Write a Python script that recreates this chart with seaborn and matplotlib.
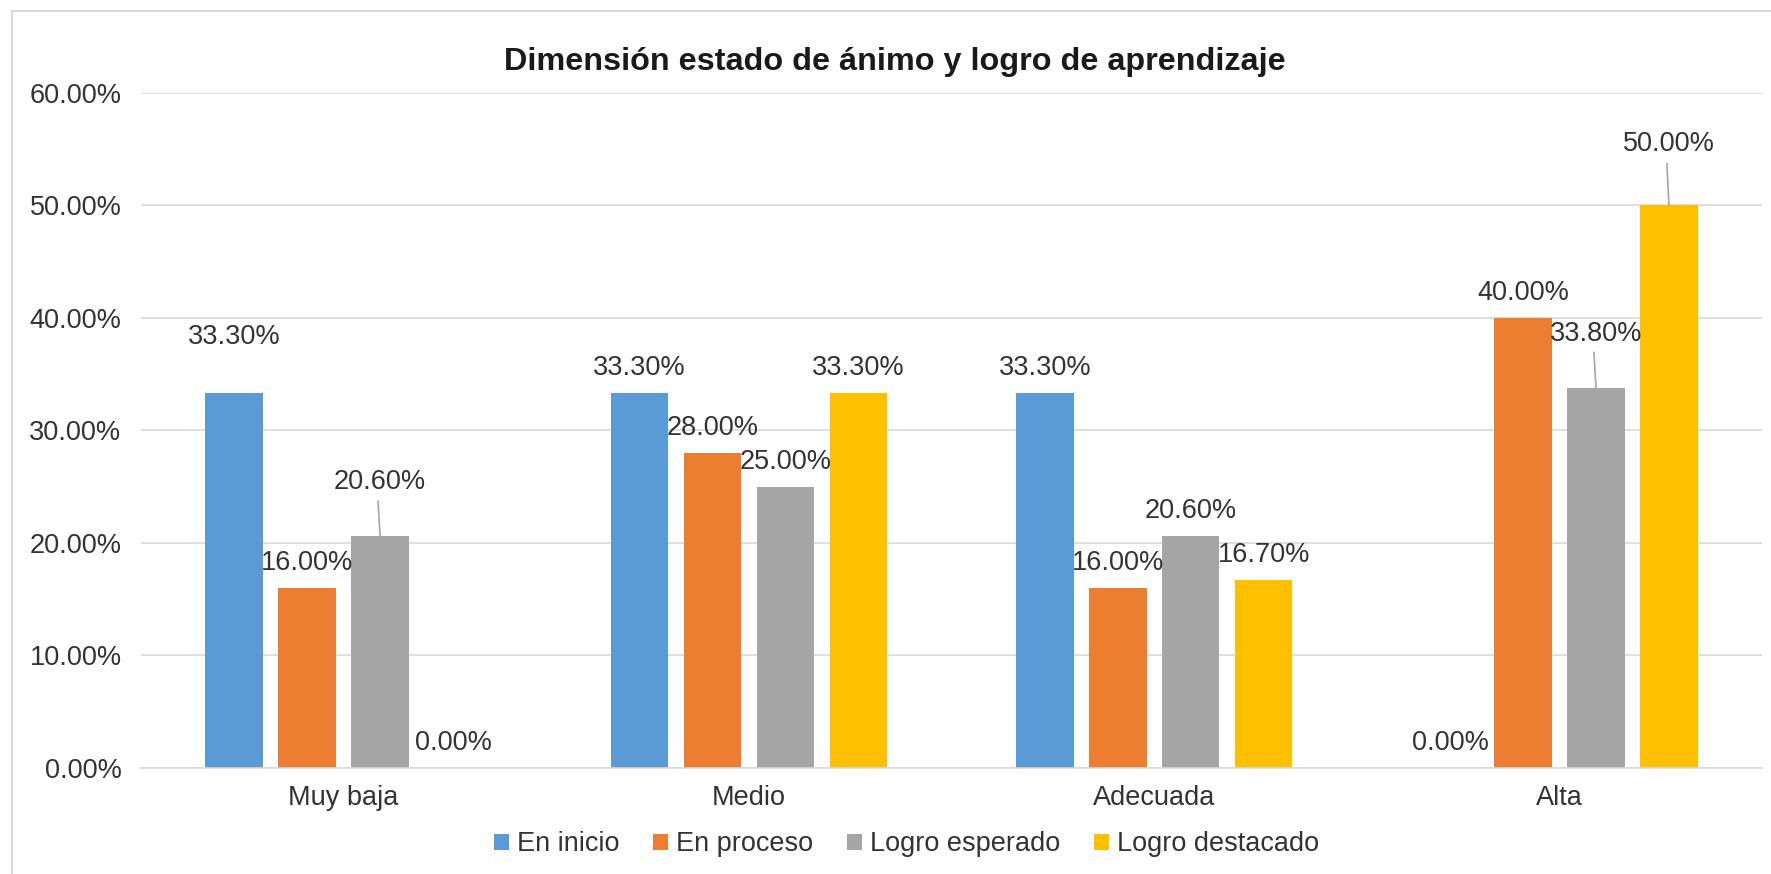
import pandas as pd
import seaborn as sns
import matplotlib.pyplot as plt
from matplotlib.patches import Rectangle

# Data
niveles = ['Muy baja', 'Medio', 'Adecuada', 'Alta']
logros = ['En inicio', 'En proceso', 'Logro esperado', 'Logro destacado']
en_inicio = [33.3, 33.3, 33.3, 0.0]
en_proceso = [16.0, 28.0, 16.0, 40.0]
logro_esperado = [20.6, 25.0, 20.6, 33.8]
logro_destacado = [0.0, 33.3, 16.7, 50.0]

colores = ['#5B9BD5', '#ED7D31', '#A5A5A5', '#FFC000']

series = [en_inicio, en_proceso, logro_esperado, logro_destacado]
df = pd.DataFrame({
    'Nivel': niveles * 4,
    'Logro': [l for l in logros for _ in niveles],
    'Porcentaje': [v for s in series for v in s],
})

plt.rcParams['font.family'] = ['Liberation Sans', 'DejaVu Sans']
text_color = '#333333'
grid_color = '#D9D9D9'

fig = plt.figure(figsize=(17.71, 8.74), dpi=100)
ax = fig.add_axes([0.0796, 0.1213, 0.9154, 0.7727])

sns.barplot(data=df, x='Nivel', y='Porcentaje', hue='Logro', palette=colores,
            width=0.72, gap=0.21, saturation=1, ax=ax, legend=True)

ax.set_xlim(-0.5, 3.5)
ax.set_ylim(0, 60)
ax.set_yticks(range(0, 61, 10))
ax.set_yticklabels([f'{v:.2f}%' for v in range(0, 61, 10)])
ax.set_xlabel('')
ax.set_ylabel('')
ax.grid(axis='y', color=grid_color, linewidth=1.2)
ax.set_axisbelow(True)
for side in ['top', 'right', 'left']:
    ax.spines[side].set_visible(False)
ax.spines['bottom'].set_color(grid_color)
ax.spines['bottom'].set_linewidth(1.2)
ax.tick_params(length=0, labelsize=19.5, labelcolor=text_color)
ax.tick_params(axis='y', pad=14)
ax.tick_params(axis='x', pad=12)

# data labels (some raised with a leader line, as in the reference)
raised = {(0, 0): (5.0, False), (2, 0): (4.8, True), (2, 3): (4.8, True), (3, 3): (5.4, True)}
for i, cont in enumerate(ax.containers):
    for j, bar in enumerate(cont):
        h = bar.get_height()
        xc = bar.get_x() + bar.get_width() / 2
        off, leader = raised.get((i, j), (2.2, False))
        ax.text(xc, h + off, f'{h:.2f}%', ha='center', va='center',
                fontsize=19.5, color=text_color, clip_on=False)
        if leader:
            ax.plot([xc, xc - 0.005], [h, h + off - 1.7], color='#A6A6A6', lw=1.2)

fig.suptitle('Dimensión estado de ánimo y logro de aprendizaje', x=0.505, y=0.946,
             fontsize=23.3, fontweight='bold', color='#1a1a1a')

handles, labels = ax.get_legend_handles_labels()
ax.legend_.remove()
fig.legend(handles, labels, loc='center', bbox_to_anchor=(0.512, 0.034), ncol=4,
           frameon=False, fontsize=19.5, labelcolor=text_color,
           handlelength=0.55, handleheight=0.55, handletextpad=0.3, columnspacing=1.25)

fig.patches.append(Rectangle((12 / 1771, -0.1), 2, 1 - 11 / 874 + 0.1, transform=fig.transFigure,
                             fill=False, edgecolor=grid_color, linewidth=1.5))

fig.savefig('out.png', dpi=100)
